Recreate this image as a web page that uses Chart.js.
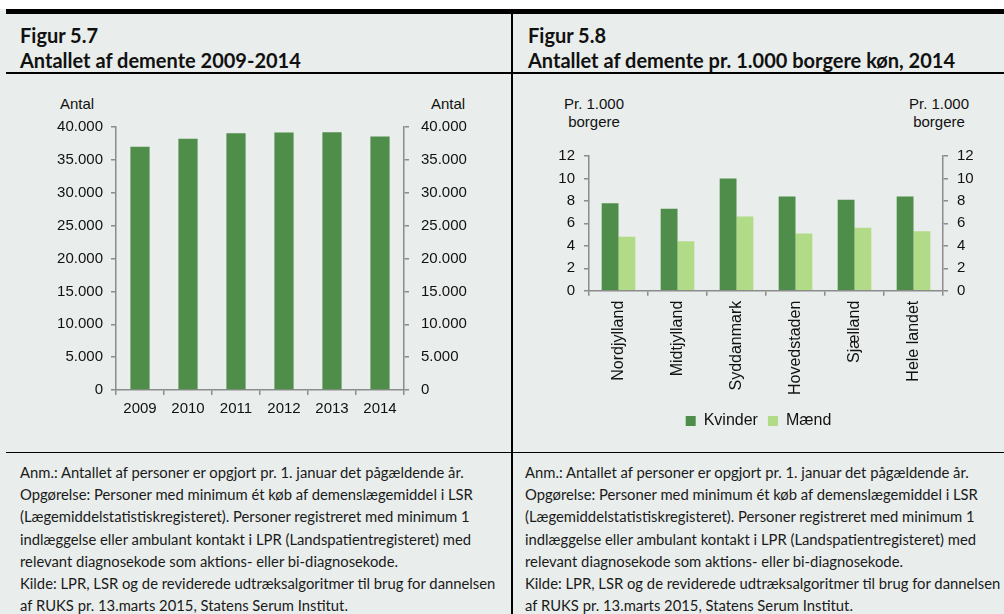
<!DOCTYPE html>
<html>
<head>
<meta charset="utf-8">
<script src="https://cdn.jsdelivr.net/npm/chart.js@4/dist/chart.umd.min.js"></script>
<style>
  html, body { margin: 0; padding: 0; }
  body { width: 1004px; height: 614px; position: relative; overflow: hidden; background: #e9edeb; font-family: Lato, 'Open Sans', sans-serif; color: #111; }
  .topwhite { position: absolute; left: 0; top: 0; width: 1004px; height: 9px; background: #fff; }
  .hline { position: absolute; background: #000; }
  .vline { position: absolute; background: #000; }
  .title { position: absolute; top: 23px; font-weight: bold; font-size: 20px; line-height: 25px; white-space: nowrap; }
  .note { position: absolute; top: 461px; font-size: 14.8px; line-height: 22.2px; white-space: nowrap; color: #1a1a1a; }
  .axlabel { position: absolute; top: 95px; font-family: 'Liberation Sans', Arial, sans-serif; font-size: 15px; line-height: 17.6px; text-align: center; width: 100px; margin-left: -50px; color: #111; }
  canvas { position: absolute; }
</style>
</head>
<body>
<div class="topwhite"></div>
<div class="hline" style="left:6px; top:9px; width:998px; height:5px;"></div>
<div class="hline" style="left:6px; top:72px; width:998px; height:2px;"></div>
<div class="hline" style="left:6px; top:452px; width:998px; height:1px;"></div>
<div class="vline" style="left:511px; top:14px; width:2px; height:600px;"></div>

<div class="title" style="left:20px;">Figur 5.7<br>Antallet af demente 2009-2014</div>
<div class="title" style="left:528px;">Figur 5.8<br>Antallet af demente pr. 1.000 borgere køn, 2014</div>

<div class="axlabel" style="left:77px;">Antal</div>
<div class="axlabel" style="left:448px;">Antal</div>
<div class="axlabel" style="left:594px;">Pr. 1.000<br>borgere</div>
<div class="axlabel" style="left:939px;">Pr. 1.000<br>borgere</div>

<canvas id="left" width="505" height="378" style="left:6px; top:74px;"></canvas>
<canvas id="right" width="491" height="378" style="left:513px; top:74px;"></canvas>

<div class="note" style="left:20px;">Anm.: Antallet af personer er opgjort pr. 1. januar det pågældende år.<br>Opgørelse: Personer med minimum ét køb af demenslægemiddel i LSR<br>(Lægemiddelstatistiskregisteret). Personer registreret med minimum 1<br>indlæggelse eller ambulant kontakt i LPR (Landspatientregisteret) med<br>relevant diagnosekode som aktions- eller bi-diagnosekode.<br>Kilde: LPR, LSR og de reviderede udtræksalgoritmer til brug for dannelsen<br>af RUKS pr. 13.marts 2015, Statens Serum Institut.</div>
<div class="note" style="left:525px;">Anm.: Antallet af personer er opgjort pr. 1. januar det pågældende år.<br>Opgørelse: Personer med minimum ét køb af demenslægemiddel i LSR<br>(Lægemiddelstatistiskregisteret). Personer registreret med minimum 1<br>indlæggelse eller ambulant kontakt i LPR (Landspatientregisteret) med<br>relevant diagnosekode som aktions- eller bi-diagnosekode.<br>Kilde: LPR, LSR og de reviderede udtræksalgoritmer til brug for dannelsen<br>af RUKS pr. 13.marts 2015, Statens Serum Institut.</div>

<script>
// Figur 5.7
const years = ['2009', '2010', '2011', '2012', '2013', '2014'];
const dementCount = [37000, 38200, 39050, 39150, 39200, 38550];
const countTicks = [0, 5000, 10000, 15000, 20000, 25000, 30000, 35000, 40000];

// Figur 5.8
const regions = ['Nordjylland', 'Midtjylland', 'Syddanmark', 'Hovedstaden', 'Sjælland', 'Hele landet'];
const kvinder = [7.8, 7.3, 10.0, 8.4, 8.1, 8.4];
const maend = [4.8, 4.4, 6.6, 5.1, 5.6, 5.3];
const rateTicks = [0, 2, 4, 6, 8, 10, 12];

const darkGreen = '#4f8d4a';
const lightGreen = '#b1db87';
const axisGrey = '#8c8c8c';

Chart.defaults.font.family = "'Liberation Sans', Arial, sans-serif";
Chart.defaults.font.size = 15;
Chart.defaults.color = '#111';
Chart.defaults.animation = false;

var dotted = function (v) {
  return String(v).replace(/\B(?=(\d{3})+(?!\d))/g, '.');
};

var yScale = function (ticks, side, width, pad, fmt) {
  return {
    type: 'linear',
    position: side,
    min: ticks[0],
    max: ticks[ticks.length - 1],
    afterBuildTicks: function (s) { s.ticks = ticks.map(v => ({ value: v })); },
    afterFit: function (s) { s.width = width; },
    grid: { drawOnChartArea: false, drawTicks: true, tickLength: 5, color: axisGrey, lineWidth: 1.5 },
    border: { color: axisGrey, width: 1.5 },
    ticks: { padding: pad, callback: fmt }
  };
};

new Chart(document.getElementById('left').getContext('2d'), {
  type: 'bar',
  data: {
    labels: years,
    datasets: [{ label: 'Antal', data: dementCount, backgroundColor: darkGreen, borderWidth: 0, barPercentage: 0.4, categoryPercentage: 1, yAxisID: 'y' }]
  },
  options: {
    responsive: false,
    layout: { padding: { top: 53, bottom: 32, left: 0, right: 0 } },
    plugins: { legend: { display: false }, tooltip: { enabled: false } },
    scales: {
      x: {
        afterFit: function (s) { s.height = 30; },
        grid: { drawOnChartArea: false, tickLength: 5, color: axisGrey, lineWidth: 1.5 },
        border: { color: axisGrey, width: 1.5 },
        ticks: { maxRotation: 0, padding: 5 }
      },
      y: yScale(countTicks, 'left', 110, 8, dotted),
      y2: yScale(countTicks, 'right', 107, 12, dotted)
    }
  }
});

new Chart(document.getElementById('right').getContext('2d'), {
  type: 'bar',
  data: {
    labels: regions,
    datasets: [
      { label: 'Kvinder', data: kvinder, backgroundColor: darkGreen, borderWidth: 0, barPercentage: 1, categoryPercentage: 0.57, yAxisID: 'y' },
      { label: 'Mænd', data: maend, backgroundColor: lightGreen, borderWidth: 0, barPercentage: 1, categoryPercentage: 0.57, yAxisID: 'y' }
    ]
  },
  options: {
    responsive: false,
    layout: { padding: { top: 82, bottom: 13, left: 0, right: 0 } },
    plugins: {
      tooltip: { enabled: false },
      legend: {
        position: 'bottom',
        labels: { boxWidth: 10, boxHeight: 10, padding: 10, color: '#111', font: { size: 16 } }
      }
    },
    scales: {
      x: {
        afterFit: function (s) { s.height = 112.3; },
        grid: { drawOnChartArea: false, tickLength: 5, color: axisGrey, lineWidth: 1.5 },
        border: { color: axisGrey, width: 1.5 },
        ticks: { minRotation: 90, maxRotation: 90, autoSkip: false, padding: 5, font: { size: 16 } }
      },
      y: yScale(rateTicks, 'left', 76, 9),
      y2: yScale(rateTicks, 'right', 61, 9)
    }
  }
});
</script>
</body>
</html>
